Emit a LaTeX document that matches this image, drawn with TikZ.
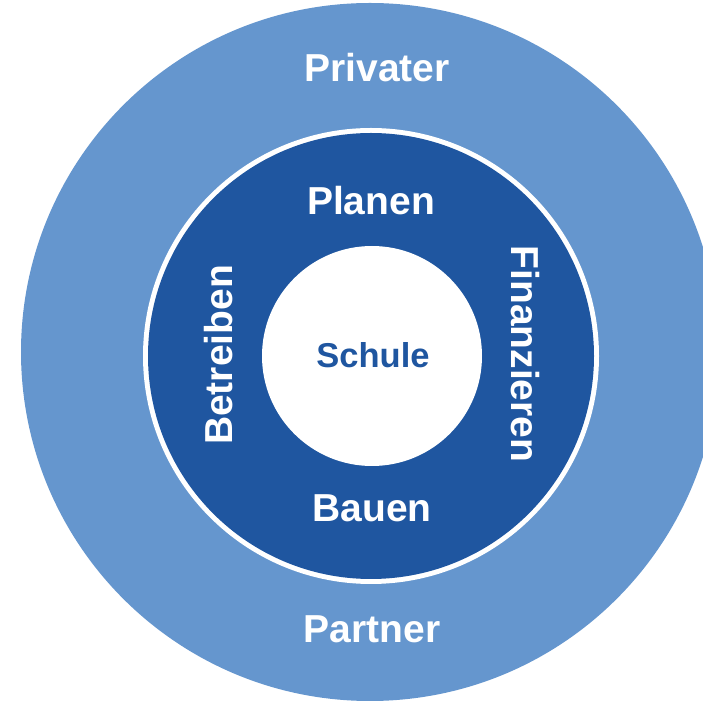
\documentclass[tikz,border=0pt]{standalone}
\usepackage{fontspec}
\setmainfont{Liberation Sans}
\usetikzlibrary{positioning}

\definecolor{outerblue}{RGB}{101,150,206}
\definecolor{innerblue}{RGB}{31,86,160}

\tikzset{
    ringlabel/.style={anchor=base,text=white,font=\bfseries\fontsize{39}{41}\selectfont,inner sep=0pt},
    corelabel/.style={anchor=base,text=innerblue,font=\bfseries\fontsize{34.5}{36}\selectfont,inner sep=0pt}
}

\begin{document}
\begin{tikzpicture}[x=1pt,y=1pt]

            %\draw [help lines] (0,0) grid (703,704);
            \useasboundingbox (0,0) rectangle (703,704);
            \clip (0,0) rectangle (703,704);

            % rings, outside in
            \fill[outerblue] (370,352) circle (349);
            \fill[white] (371,348) circle (228);
            \fill[innerblue] (371,348) circle (223);
            \fill[white] (372,348) circle (110);

            \path   (377,622) node (privater) [ringlabel] {Privater}
                    (372,61) node (partner) [ringlabel] {Partner}
                    (371,489) node (planen) [ringlabel] {Planen}
                    (372,182) node (bauen) [ringlabel] {Bauen}
                    (232,349) node (betreiben) [ringlabel,rotate=90] {Betreiben}
                    (511,350) node (finanzieren) [ringlabel,rotate=-90] {Finanzieren}
                    (373,336) node (schule) [corelabel] {Schule};

\end{tikzpicture}
\end{document}
